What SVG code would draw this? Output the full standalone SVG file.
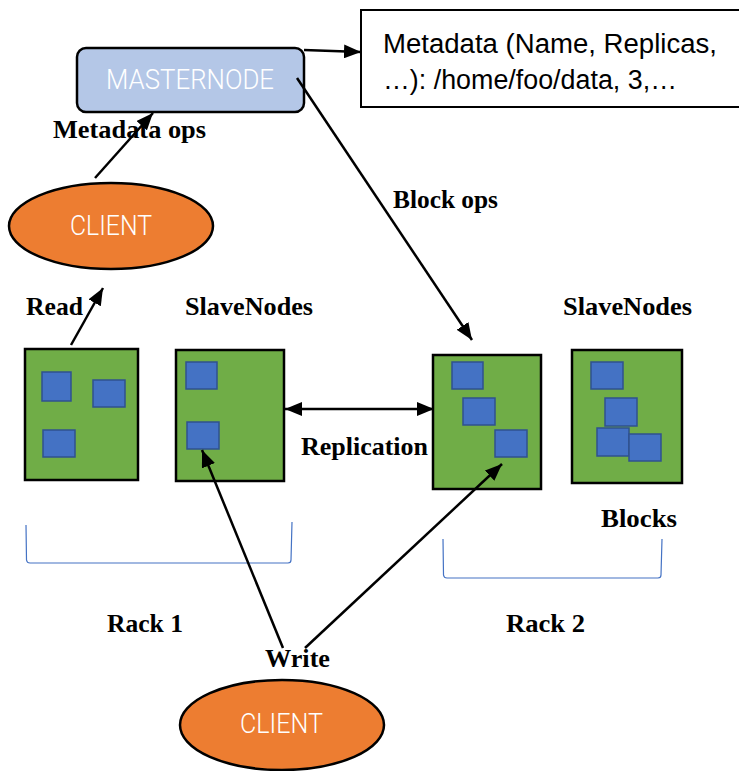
<svg xmlns="http://www.w3.org/2000/svg" width="739" height="771" viewBox="0 0 739 771">
<style>
.lbl{font-family:"Liberation Serif","Times New Roman",serif;font-weight:bold;font-size:25px;fill:#000}
.sans{font-family:"Liberation Sans",Arial,sans-serif;fill:#000}
.light{font-family:Roboto,"Liberation Sans",Arial,sans-serif;font-weight:300;fill:#fff}
.conn{stroke:#000;stroke-width:2.5;fill:none}
.rack{fill:#70ad47;stroke:#000;stroke-width:2.5}
.blk{fill:#4472c4;stroke:#2f528f;stroke-width:1.5}
.brk{fill:none;stroke:#4472c4;stroke-width:1.2}
.client{fill:#ed7d31;stroke:#000;stroke-width:2.5}
</style>
<defs>
<marker id="ah" markerUnits="userSpaceOnUse" markerWidth="18" markerHeight="14" refX="17" refY="7" orient="auto-start-reverse" viewBox="0 0 18 14">
<path d="M0,0 L17,7 L0,14 z" fill="#000"/>
</marker>
</defs>
<rect width="739" height="771" fill="#fff"/>

<g id="metadata-box">
<rect x="361" y="10" width="390" height="97" fill="#fff" stroke="#000" stroke-width="2"/>
<text class="sans" x="383" y="53" font-size="27" textLength="334" lengthAdjust="spacingAndGlyphs">Metadata (Name, Replicas,</text>
<text class="sans" x="383" y="89" font-size="27" textLength="294" lengthAdjust="spacingAndGlyphs">…): /home/foo/data, 3,…</text>
</g>

<g id="masternode">
<rect x="77" y="48" width="227" height="64" rx="9" fill="#b4c7e7" stroke="#000" stroke-width="2.5"/>
<text class="light" x="106" y="89" font-size="27" textLength="168" lengthAdjust="spacingAndGlyphs">MASTERNODE</text>
</g>

<g id="client-read">
<ellipse class="client" cx="111" cy="226" rx="102" ry="43"/>
<text class="light" x="70" y="235" font-size="28" textLength="82" lengthAdjust="spacingAndGlyphs">CLIENT</text>
</g>

<g id="client-write">
<ellipse class="client" cx="282" cy="725" rx="102" ry="45"/>
<text class="light" x="240" y="733" font-size="28" textLength="83" lengthAdjust="spacingAndGlyphs">CLIENT</text>
</g>

<g id="slave1">
<rect class="rack" x="25" y="349" width="113" height="131"/>
<rect class="blk" x="42" y="372" width="29" height="29"/>
<rect class="blk" x="93" y="380" width="32" height="27"/>
<rect class="blk" x="43" y="430" width="32" height="27"/>
</g>
<g id="slave2">
<rect class="rack" x="176" y="350" width="108" height="131"/>
<rect class="blk" x="186" y="362" width="31" height="27"/>
<rect class="blk" x="187" y="422" width="32" height="27"/>
</g>
<g id="slave3">
<rect class="rack" x="433" y="355" width="108" height="134"/>
<rect class="blk" x="452" y="362" width="31" height="27"/>
<rect class="blk" x="463" y="398" width="32" height="27"/>
<rect class="blk" x="495" y="430" width="32" height="27"/>
</g>
<g id="slave4">
<rect class="rack" x="572" y="350" width="110" height="133"/>
<rect class="blk" x="591" y="362" width="32" height="27"/>
<rect class="blk" x="605" y="398" width="32" height="28"/>
<rect class="blk" x="597" y="428" width="32" height="28"/>
<rect class="blk" x="629" y="434" width="32" height="27"/>
</g>

<g id="rack1">
<path class="brk" d="M26,525 L26.5,560 Q27,563 30,563 L288,563 Q291,563 291,560 L292,522"/>
<text class="lbl" x="107" y="632" textLength="76" lengthAdjust="spacingAndGlyphs">Rack 1</text>
</g>
<g id="rack2">
<path class="brk" d="M443,539 L443.5,575 Q444,578 447,578 L658,578 Q661,578 661,575 L662,539"/>
<text class="lbl" x="506" y="632" textLength="79" lengthAdjust="spacingAndGlyphs">Rack 2</text>
</g>

<g id="connectors">
<line class="conn" x1="304" y1="50" x2="361" y2="52" marker-end="url(#ah)"/>
<line class="conn" x1="95" y1="178" x2="153" y2="113" marker-end="url(#ah)"/>
<line class="conn" x1="297" y1="78" x2="472" y2="340" marker-end="url(#ah)"/>
<line class="conn" x1="71" y1="345" x2="103" y2="288" marker-end="url(#ah)"/>
<line class="conn" x1="285" y1="409" x2="434" y2="409" marker-start="url(#ah)" marker-end="url(#ah)"/>
<line class="conn" x1="283" y1="648" x2="202" y2="450" marker-end="url(#ah)"/>
<line class="conn" x1="305" y1="648" x2="502" y2="464" marker-end="url(#ah)"/>
</g>

<g id="labels">
<text class="lbl" x="53" y="138" textLength="153" lengthAdjust="spacingAndGlyphs">Metadata ops</text>
<text class="lbl" x="393" y="208" textLength="105" lengthAdjust="spacingAndGlyphs">Block ops</text>
<text class="lbl" x="26" y="315" textLength="57" lengthAdjust="spacingAndGlyphs">Read</text>
<text class="lbl" x="185" y="315" textLength="128" lengthAdjust="spacingAndGlyphs">SlaveNodes</text>
<text class="lbl" x="563" y="315" textLength="129" lengthAdjust="spacingAndGlyphs">SlaveNodes</text>
<text class="lbl" x="301" y="455" textLength="127" lengthAdjust="spacingAndGlyphs">Replication</text>
<text class="lbl" x="601" y="527" textLength="76" lengthAdjust="spacingAndGlyphs">Blocks</text>
<text class="lbl" x="265" y="667" textLength="65" lengthAdjust="spacingAndGlyphs">Write</text>
</g>
</svg>
